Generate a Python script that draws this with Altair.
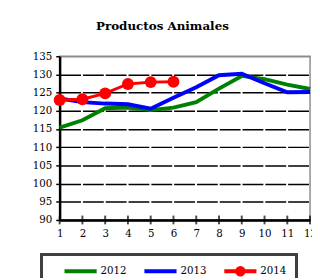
import altair as alt
import pandas as pd

months = list(range(1, 13))
v2012 = [115.4, 117.4, 120.7, 120.9, 120.2, 120.9, 122.4, 126.1, 129.6, 128.7, 127.2, 126.0]
v2013 = [123.4, 122.4, 122.0, 121.8, 120.6, 123.6, 126.5, 129.8, 130.2, 127.6, 125.1, 125.2]
months2014 = [1, 2, 3, 4, 5, 6]
v2014 = [123.0, 123.2, 124.8, 127.4, 127.9, 128.0]
years = ["2012", "2013", "2014"]
colors = ["#008000", "#0000ff", "#ff0000"]
y_ticks = list(range(90, 136, 5))
title_text = "Productos Animales"

rows = []
for m, v in zip(months, v2012):
    rows.append({"mes": m, "valor": v, "serie": "2012"})
for m, v in zip(months, v2013):
    rows.append({"mes": m, "valor": v, "serie": "2013"})
for m, v in zip(months2014, v2014):
    rows.append({"mes": m, "valor": v, "serie": "2014"})
df = pd.DataFrame(rows)
ticks_df = pd.DataFrame({"mes": months, "valor": [y_ticks[0]] * len(months)})

W, H = 257, 168
FONT = "DejaVu Serif"

line_path = "M-1,0H1M0,-0.2L0,-0.2M0,0.2L0,0.2"
marker_path = "M-1,0H1M0.2,0A0.2,0.2,0,1,1,-0.2,0A0.2,0.2,0,1,1,0.2,0Z"

color_scale = alt.Scale(domain=years, range=colors)
shape_scale = alt.Scale(domain=years, range=[line_path, line_path, marker_path])

x_axis = alt.Axis(
    values=months, ticks=False, grid=False, domainColor="black", domainWidth=2.5,
    labelPadding=9, labelFont=FONT, labelFontSize=10.5, labelColor="black",
    labelFlush=False, labelOverlap=False, title=None,
)
y_axis = alt.Axis(
    values=y_ticks, tickSize=4, tickColor="black", tickWidth=1.5,
    domainColor="black", domainWidth=2.5, grid=True,
    gridColor={"condition": {"test": "datum.value >= 135", "value": "#8c8c8c"}, "value": "black"},
    gridDash={"condition": {"test": "datum.value >= 135", "value": []}, "value": [21.4, 2]},
    gridWidth=1.5, labelFont=FONT, labelFontSize=10.5, labelColor="black",
    labelPadding=4, labelFlush=False, labelOverlap=False, title=None,
)
x_enc = alt.X("mes:Q", scale=alt.Scale(domain=[1, 12], nice=False, zero=False), axis=x_axis)
y_enc = alt.Y("valor:Q", scale=alt.Scale(domain=[90, 135], nice=False, zero=False), axis=y_axis)

leg = alt.Legend(
    orient="none", legendX=3, legendY=202, direction="horizontal", title=None,
    symbolSize=1089, symbolStrokeWidth=4, labelFont=FONT, labelFontSize=10.5,
    labelColor="black", labelOffset=2, columnPadding=10, padding=0,
)
color_enc = alt.Color("serie:N", scale=color_scale, legend=leg)

base = alt.Chart(df)

lines_a = base.transform_filter("datum.serie != '2014'").mark_line(strokeWidth=4).encode(
    x=x_enc, y=y_enc, color=color_enc,
)
line_b = base.transform_filter("datum.serie == '2014'").mark_line(strokeWidth=3).encode(
    x=x_enc, y=y_enc, color=color_enc,
)
pts = base.transform_filter("datum.serie == '2014'").mark_circle(size=150, opacity=1).encode(
    x=x_enc, y=y_enc, color=color_enc,
)
legend_layer = base.transform_filter("datum.valor < 0").mark_point(strokeWidth=4, filled=False, opacity=1).encode(
    x=x_enc, y=y_enc, color=color_enc,
    shape=alt.Shape("serie:N", scale=shape_scale, legend=leg),
)

xticks = alt.Chart(ticks_df).mark_tick(orient="vertical", size=9, thickness=2, color="black").encode(
    x=x_enc, y=y_enc,
)

box = alt.Chart(ticks_df).mark_rect(fill=None, stroke="#404040", strokeWidth=2).encode(
    x=alt.value(-18.5), x2=alt.value(243), y=alt.value(203.5), y2=alt.value(260),
)

chart = alt.layer(lines_a, line_b, pts, legend_layer, xticks, box).properties(
    width=W, height=H,
    autosize=alt.AutoSizeParams(type="none"),
    padding={"left": 53, "top": 46, "right": 2, "bottom": 56},
    title=alt.TitleParams(
        title_text, font=FONT, fontSize=12.2, fontWeight="bold", color="black",
        anchor="middle", dx=-23, offset=10, baseline="alphabetic",
    ),
).configure_view(stroke="#8c8c8c", strokeWidth=1.5)

chart.save("out.html", embed_options={"renderer": "svg", "actions": False})
